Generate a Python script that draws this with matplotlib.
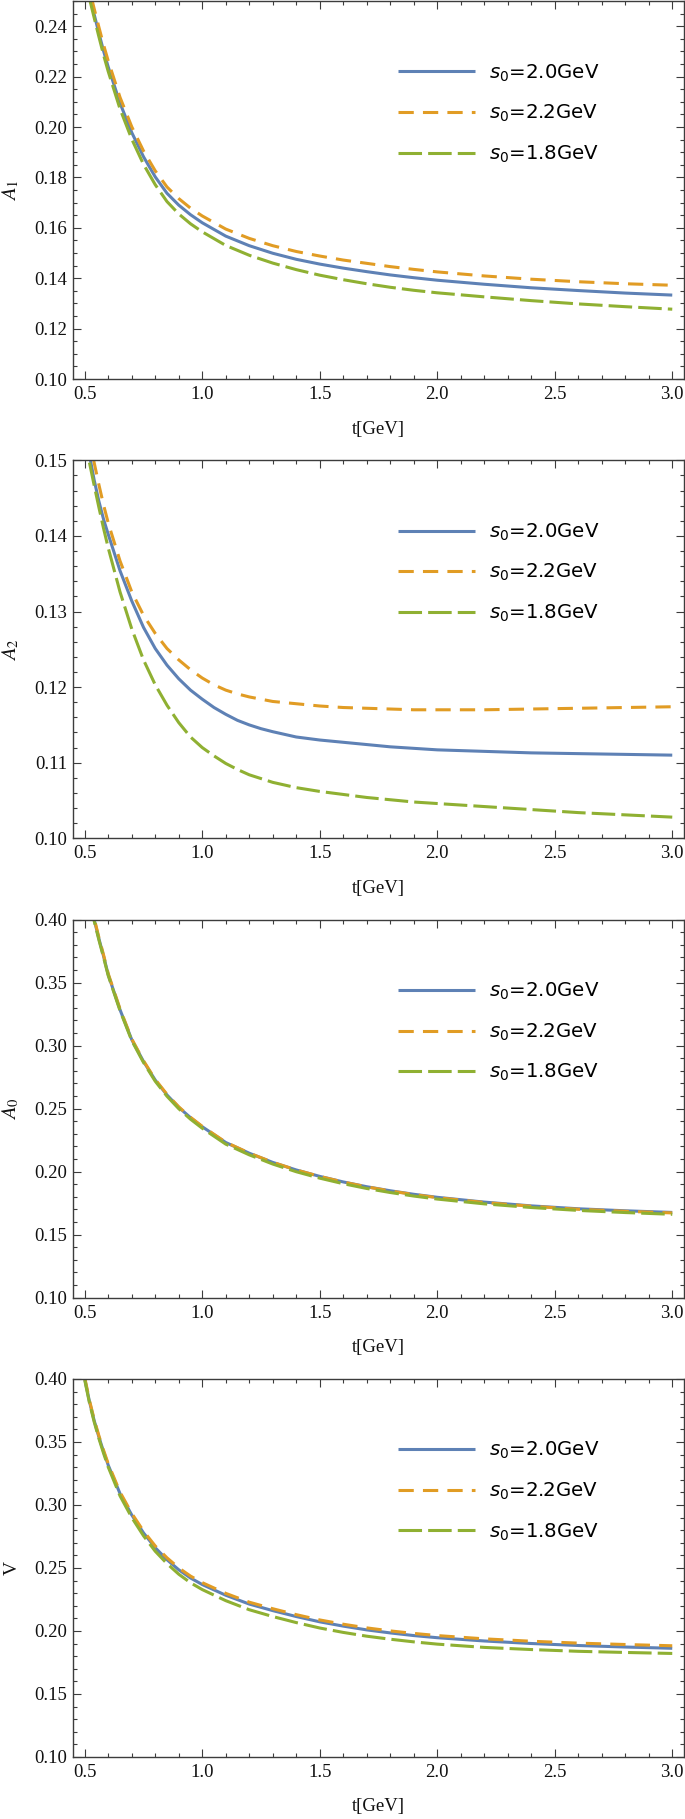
import matplotlib
matplotlib.use("Agg")
import matplotlib.pyplot as plt
from matplotlib.ticker import MultipleLocator, FormatStrFormatter

# ---------------- data ----------------
t_A1 = [0.52, 0.54, 0.56, 0.58, 0.6, 0.65, 0.7, 0.75, 0.8, 0.85, 0.9, 0.95, 1.0, 1.1, 1.2, 1.3, 1.4, 1.5, 1.6, 1.7, 1.8, 1.9, 2.0, 2.2, 2.4, 2.6, 2.8, 3.0]
A1_s20 = [0.2522, 0.2447, 0.2373, 0.2302, 0.2238, 0.2095, 0.1978, 0.1882, 0.1802, 0.1737, 0.1690, 0.1652, 0.1620, 0.1567, 0.1529, 0.1499, 0.1475, 0.1456, 0.1440, 0.1426, 0.1413, 0.1402, 0.1392, 0.1376, 0.1362, 0.1351, 0.1341, 0.1333]
A1_s22 = [0.2545, 0.2470, 0.2397, 0.2326, 0.2262, 0.2118, 0.2001, 0.1905, 0.1826, 0.1762, 0.1716, 0.1678, 0.1647, 0.1595, 0.1558, 0.1529, 0.1506, 0.1488, 0.1472, 0.1459, 0.1446, 0.1435, 0.1425, 0.1409, 0.1396, 0.1386, 0.1378, 0.1372]
A1_s18 = [0.2510, 0.2434, 0.2359, 0.2286, 0.2220, 0.2072, 0.1952, 0.1852, 0.1771, 0.1704, 0.1655, 0.1616, 0.1584, 0.1530, 0.1491, 0.1460, 0.1434, 0.1412, 0.1394, 0.1378, 0.1364, 0.1352, 0.1342, 0.1326, 0.1311, 0.1298, 0.1287, 0.1277]

t_A2 = [0.52, 0.54, 0.56, 0.58, 0.6, 0.65, 0.7, 0.75, 0.8, 0.85, 0.9, 0.95, 1.0, 1.05, 1.1, 1.15, 1.2, 1.25, 1.3, 1.4, 1.5, 1.6, 1.7, 1.8, 1.9, 2.0, 2.2, 2.4, 2.6, 2.8, 3.0]
A2_s20 = [0.1507, 0.1474, 0.1446, 0.1422, 0.1402, 0.1354, 0.1314, 0.1279, 0.1251, 0.1229, 0.1211, 0.1196, 0.1184, 0.1173, 0.1164, 0.1156, 0.1150, 0.1145, 0.1141, 0.1134, 0.1130, 0.1127, 0.1124, 0.1121, 0.1119, 0.1117, 0.1115, 0.1113, 0.1112, 0.1111, 0.1110]
A2_s22 = [0.1533, 0.1497, 0.1468, 0.1441, 0.1417, 0.1367, 0.1326, 0.1295, 0.1271, 0.1251, 0.1236, 0.1223, 0.1212, 0.1203, 0.1196, 0.1191, 0.1187, 0.1184, 0.1181, 0.1178, 0.1175, 0.1173, 0.1172, 0.1171, 0.1170, 0.1170, 0.1170, 0.1171, 0.1172, 0.1173, 0.1174]
A2_s18 = [0.1497, 0.1467, 0.1438, 0.1410, 0.1384, 0.1326, 0.1277, 0.1236, 0.1203, 0.1176, 0.1153, 0.1134, 0.1120, 0.1109, 0.1099, 0.1091, 0.1084, 0.1079, 0.1074, 0.1067, 0.1062, 0.1058, 0.1054, 0.1051, 0.1048, 0.1046, 0.1042, 0.1038, 0.1034, 0.1031, 0.1028]

t_A0 = [0.52, 0.54, 0.56, 0.58, 0.6, 0.65, 0.7, 0.75, 0.8, 0.85, 0.9, 0.95, 1.0, 1.1, 1.2, 1.3, 1.4, 1.5, 1.6, 1.7, 1.8, 1.9, 2.0, 2.2, 2.4, 2.6, 2.8, 3.0]
A0_s20 = [0.415, 0.400, 0.385, 0.371, 0.3562, 0.3285, 0.3047, 0.2874, 0.2726, 0.2608, 0.2510, 0.2428, 0.2356, 0.2231, 0.2146, 0.2073, 0.2013, 0.1962, 0.1918, 0.1880, 0.1848, 0.1820, 0.1796, 0.1758, 0.1728, 0.1705, 0.1689, 0.1676]
A0_s22 = [0.416, 0.401, 0.386, 0.372, 0.3570, 0.3292, 0.3053, 0.2880, 0.2731, 0.2613, 0.2514, 0.2431, 0.2359, 0.2233, 0.2147, 0.2074, 0.2013, 0.1962, 0.1917, 0.1879, 0.1846, 0.1818, 0.1793, 0.1755, 0.1725, 0.1701, 0.1685, 0.1672]
A0_s18 = [0.414, 0.399, 0.384, 0.370, 0.3555, 0.3278, 0.3040, 0.2866, 0.2717, 0.2598, 0.2499, 0.2416, 0.2344, 0.2218, 0.2133, 0.2060, 0.1999, 0.1948, 0.1904, 0.1866, 0.1834, 0.1806, 0.1782, 0.1744, 0.1715, 0.1692, 0.1675, 0.1661]

t_V = [0.5, 0.52, 0.54, 0.56, 0.58, 0.6, 0.65, 0.7, 0.75, 0.8, 0.85, 0.9, 0.95, 1.0, 1.1, 1.2, 1.3, 1.4, 1.5, 1.6, 1.7, 1.8, 1.9, 2.0, 2.2, 2.4, 2.6, 2.8, 3.0]
V_s20 = [0.400, 0.382, 0.367, 0.3540, 0.3423, 0.3315, 0.3090, 0.2920, 0.2778, 0.2660, 0.2565, 0.2485, 0.2420, 0.2368, 0.2283, 0.2213, 0.2161, 0.2114, 0.2072, 0.2038, 0.2008, 0.1984, 0.1963, 0.1946, 0.1920, 0.1900, 0.1884, 0.1872, 0.1862]
V_s22 = [0.401, 0.383, 0.368, 0.3550, 0.3434, 0.3326, 0.3102, 0.2933, 0.2792, 0.2674, 0.2580, 0.2500, 0.2435, 0.2383, 0.2298, 0.2228, 0.2176, 0.2129, 0.2087, 0.2053, 0.2024, 0.2000, 0.1980, 0.1963, 0.1937, 0.1918, 0.1903, 0.1892, 0.1882]
V_s18 = [0.399, 0.381, 0.366, 0.3528, 0.3410, 0.3300, 0.3072, 0.2900, 0.2755, 0.2632, 0.2534, 0.2450, 0.2382, 0.2328, 0.2240, 0.2168, 0.2114, 0.2066, 0.2023, 0.1988, 0.1958, 0.1934, 0.1913, 0.1895, 0.1869, 0.1852, 0.1838, 0.1829, 0.1821]

series_labels = [r"$s_0$=2.0GeV", r"$s_0$=2.2GeV", r"$s_0$=1.8GeV"]
ylabels = [r"$A_1$", r"$A_2$", r"$A_0$", "V"]
ylims = [(0.10, 0.25), (0.10, 0.15), (0.10, 0.40), (0.10, 0.40)]
ymajor = [0.02, 0.01, 0.05, 0.05]
yminor = [0.005, 0.002, 0.01, 0.01]
xlabel = "t[GeV]"

panels = [
    (t_A1, [A1_s20, A1_s22, A1_s18]),
    (t_A2, [A2_s20, A2_s22, A2_s18]),
    (t_A0, [A0_s20, A0_s22, A0_s18]),
    (t_V, [V_s20, V_s22, V_s18]),
]

# ---------------- style ----------------
colors = ["#5E81B5", "#E19C24", "#8FB032"]
styles = ["-", (0, (5.0, 3.0)), (0, (7.7, 2.0))]
LW = 2.2
serif = "Liberation Serif"
frame_col = "#3c3c3c"

W, H = 685, 1819
fig = plt.figure(figsize=(W / 100, H / 100), dpi=100)

left_px, right_px = 73, 684
panel_h = 378
for k, ((tx, ys), yl, ylim, ymaj, ymin) in enumerate(zip(panels, ylabels, ylims, ymajor, yminor)):
    top_px = 1 + 459.3 * k
    bot_px = top_px + panel_h
    ax = fig.add_axes([left_px / W, 1 - bot_px / H, (right_px - left_px) / W, panel_h / H])

    for y, c, ls, lab in zip(ys, colors, styles, series_labels):
        ax.plot(tx, y, color=c, lw=LW, linestyle=ls, label=lab,
                solid_capstyle="butt", dash_capstyle="butt", solid_joinstyle="round")

    ax.set_xlim(0.45, 3.05)
    ax.set_ylim(*ylim)
    ax.xaxis.set_major_locator(MultipleLocator(0.5))
    ax.xaxis.set_minor_locator(MultipleLocator(0.1))
    ax.yaxis.set_major_locator(MultipleLocator(ymaj))
    ax.yaxis.set_minor_locator(MultipleLocator(ymin))
    ax.xaxis.set_major_formatter(FormatStrFormatter("%.1f"))
    ax.yaxis.set_major_formatter(FormatStrFormatter("%.2f"))

    ax.tick_params(which="both", direction="in", top=True, right=True, color=frame_col, width=0.8)
    ax.tick_params(which="major", length=5.5)
    ax.tick_params(which="minor", length=3.0)
    ax.tick_params(axis="y", which="major", pad=4.0)
    ax.tick_params(axis="x", which="major", pad=5.0)
    for lbl in ax.get_xticklabels() + ax.get_yticklabels():
        lbl.set_fontfamily(serif)
        lbl.set_fontsize(13.5)
        lbl.set_color("#111111")
    for sp in ax.spines.values():
        sp.set_color(frame_col)
        sp.set_linewidth(1.0)

    ax.set_xlabel(xlabel, fontfamily=serif, fontsize=13.5, color="#111111")
    ax.xaxis.set_label_coords(0.5, -0.11)
    if yl.startswith("$"):
        ax.set_ylabel(yl, fontsize=15, math_fontfamily="stix", color="#111111")
    else:
        ax.set_ylabel(yl, fontfamily=serif, fontsize=14, color="#111111")
    ax.yaxis.set_label_coords(-0.085, 0.5)

    ax.legend(loc="upper left", bbox_to_anchor=(0.532, 0.838), frameon=False,
              borderpad=0, borderaxespad=0, handlelength=3.9, handletextpad=0.72,
              labelspacing=0.98, prop={"family": "DejaVu Sans", "size": 14.2})

fig.savefig("out.png", dpi=100)
